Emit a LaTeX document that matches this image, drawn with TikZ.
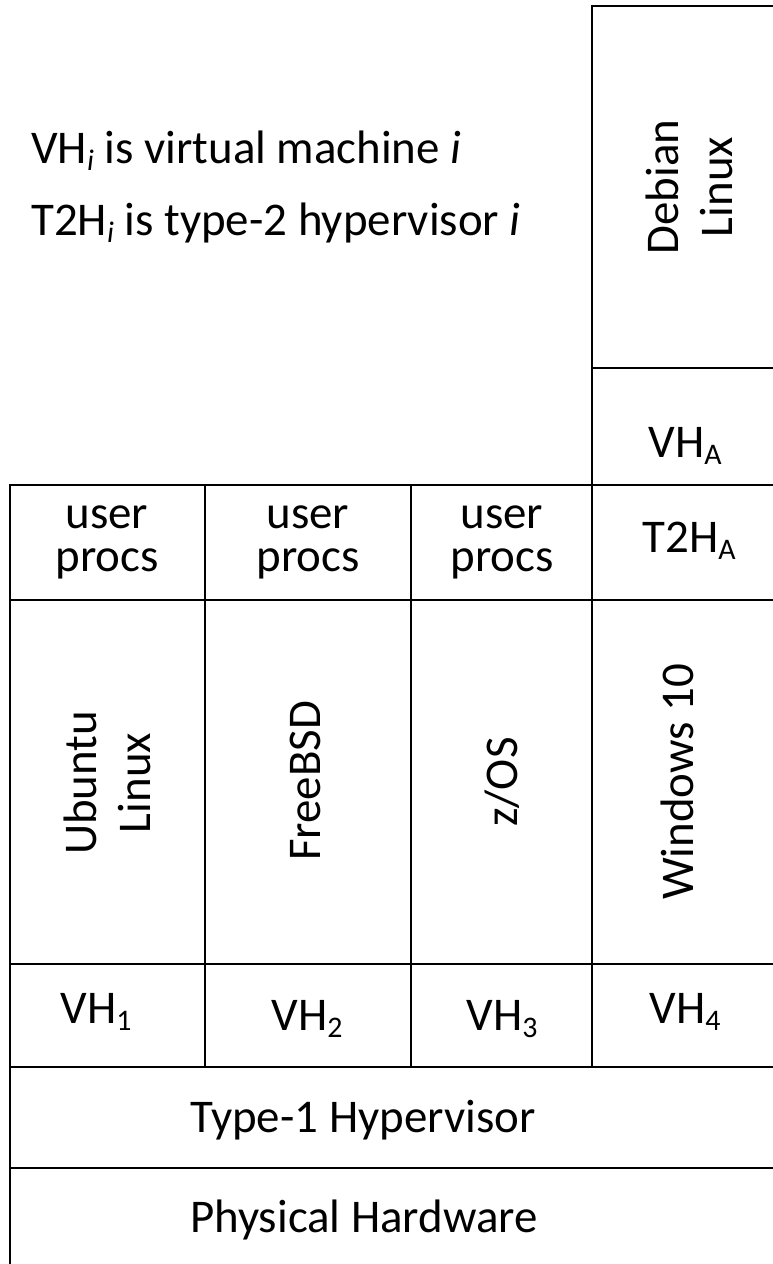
\documentclass[tikz,border=0pt]{standalone}
\usepackage{fontspec}
\setmainfont{Carlito}
\newcommand{\lowsub}[1]{\raisebox{-0.17em}{\fontsize{17}{17}\selectfont #1}}
\begin{document}
\begin{tikzpicture}[x=0.02cm, y=-0.02cm,
    layer/.style={draw, line width=1.6pt},
    lbl/.style={inner sep=0pt, font=\fontsize{26.7}{30.7}\selectfont},
    procs/.style={lbl, align=center, font=\fontsize{26.7}{24.5}\selectfont},
    guest/.style={lbl, rotate=90, align=center}]
    \useasboundingbox (0,0) rectangle (773,1264);
    \clip (0,0) rectangle (773,1264);
    % Debian guest inside the type-2 hypervisor
    \draw[layer] (592,6) rectangle (778,368);
    \draw[layer] (592,368) rectangle (778,485);
    % columns: user procs / guest OS / virtual hardware
    \foreach \xa/\xb in {10/205, 205/411, 411/592, 592/778} {
        \draw[layer] (\xa,485) rectangle (\xb,600);
        \draw[layer] (\xa,600) rectangle (\xb,964);
        \draw[layer] (\xa,964) rectangle (\xb,1067);
    }
    \draw[layer] (10,1067) rectangle (778,1168);
    \draw[layer] (10,1168) rectangle (778,1290);
    % legend
    \node[lbl, anchor=base west] (legendVH) at (31,163)
        {VH\lowsub{\textit{i}} is virtual machine \textit{i}};
    \node[lbl, anchor=base west] (legendTH) at (31,235)
        {T2H\lowsub{\textit{i}} is type-2 hypervisor \textit{i}};
    % labels
    \node[guest] (debian) at (689,187) {Debian\\Linux};
    \node[lbl, anchor=base] (vhA) at (685,457) {VH\lowsub{A}};
    \node[procs] (procsA) at (107,542) {user\\procs};
    \node[procs] (procsB) at (308,542) {user\\procs};
    \node[procs] (procsC) at (502,542) {user\\procs};
    \node[lbl, anchor=base] (thA) at (689,552) {T2H\lowsub{A}};
    \node[guest] (ubuntu) at (107,783) {Ubuntu\\Linux};
    \node[guest] (freebsd) at (305,781) {FreeBSD};
    \node[guest] (zos) at (502,782) {z/OS};
    \node[guest] (windows) at (677,782) {Windows 10};
    \node[lbl, anchor=base] (vhOne) at (96,1023) {VH\lowsub{1}};
    \node[lbl, anchor=base] (vhTwo) at (307,1030) {VH\lowsub{2}};
    \node[lbl, anchor=base] (vhThree) at (502,1030) {VH\lowsub{3}};
    \node[lbl, anchor=base] (vhFour) at (685,1023) {VH\lowsub{4}};
    \node[lbl, anchor=base] (typeOne) at (363,1132) {Type-1 Hypervisor};
    \node[lbl, anchor=base] (hardware) at (364,1232) {Physical Hardware};
\end{tikzpicture}
\end{document}
